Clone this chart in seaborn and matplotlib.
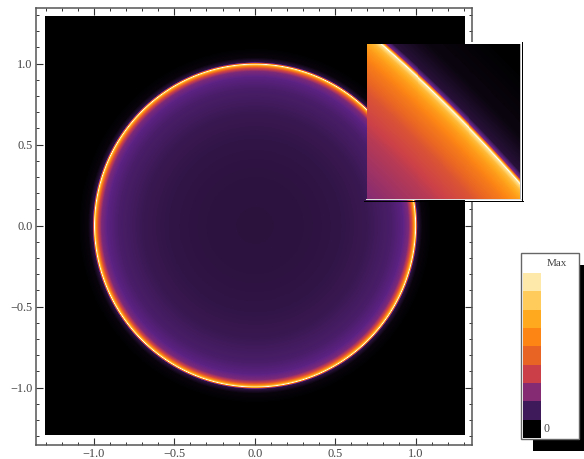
import numpy as np
import matplotlib
matplotlib.use("Agg")
import matplotlib.pyplot as plt
from matplotlib.colors import LinearSegmentedColormap
from matplotlib.patches import Rectangle
from matplotlib.ticker import MultipleLocator
import seaborn as sns

# Colour stops
stop_pos = [0.0, 0.11, 0.18, 0.25, 0.36, 0.47, 0.58, 0.69, 0.80, 0.92, 1.0]
stop_col = ["#000000", "#3f1a5a", "#5e2285", "#842b74", "#cb4048", "#e86424",
            "#fc8514", "#ffaa1e", "#ffcc5c", "#ffe9a8", "#ffffff"]
legend_levels = [0.92, 0.80, 0.69, 0.58, 0.47, 0.36, 0.25, 0.11, 0.0]

# Radial profile of the disc
radius = [0, 0.3, 0.5, 0.7, 0.85, 0.92, 0.955, 0.975, 0.988, 0.996, 1.0, 1.005, 1.012, 1.04, 1.1, 2.0]
radial_level = [0.075, 0.078, 0.085, 0.10, 0.135, 0.175, 0.235, 0.38, 0.58, 0.80, 1.0, 0.45, 0.08, 0.015, 0, 0]

# Profile across the diagonal edge of the inset
edge_dist = [-0.80, -0.50, -0.30, -0.15, -0.08, -0.03, -0.008, 0.0, 0.008, 0.022, 0.05, 0.2, 0.5, 1.0]
edge_level = [0.25, 0.33, 0.42, 0.55, 0.64, 0.74, 0.88, 1.0, 0.72, 0.22, 0.07, 0.02, 0.0, 0.0]

x_ticks = [-1.0, -0.5, 0.0, 0.5, 1.0]
y_ticks = [-1.0, -0.5, 0.0, 0.5, 1.0]

W, H = 584, 459
cmap = LinearSegmentedColormap.from_list("edge", list(zip(stop_pos, stop_col)), N=512)

sns.set_theme(style="white")
plt.rcParams["font.family"] = ["Liberation Serif", "DejaVu Serif"]
fig = plt.figure(figsize=(W / 100, H / 100), dpi=100, facecolor="white")


def px_axes(l, t, r, b, z=1):
    return fig.add_axes([l / W, 1 - b / H, (r - l) / W, (b - t) / H], zorder=z)


# Main frame
ax = px_axes(36, 8, 472, 445, z=1)
ax.set_xlim(-1.36, 1.351)
ax.set_ylim(-1.355, 1.343)
ax.set_facecolor("white")
ax.set_xticks(x_ticks, ["\u22121.0", "\u22120.5", "0.0", "0.5", "1.0"])
ax.set_yticks(y_ticks, ["\u22121.0", "\u22120.5", "0.0", "0.5", "1.0"])
ax.xaxis.set_minor_locator(MultipleLocator(0.1))
ax.yaxis.set_minor_locator(MultipleLocator(0.1))
ax.tick_params(which="major", direction="in", length=5, width=0.8, color="#333333",
               top=True, right=True, bottom=True, left=True,
               labelsize=8.8, labelcolor="#444444", pad=2.5)
ax.tick_params(which="minor", direction="in", length=2.5, width=0.7, color="#333333",
               top=True, right=True, bottom=True, left=True)
for s in ax.spines.values():
    s.set_color("#555555")
    s.set_linewidth(1.1)

# Disc
n = 420
xs = np.linspace(-1.305, 1.304, n)
ys = np.linspace(1.294, -1.293, n)
gx, gy = np.meshgrid(xs, ys)
disc = np.interp(np.hypot(gx, gy), radius, radial_level)
a_main = px_axes(45, 16, 464.5, 435, z=2)
sns.heatmap(disc, ax=a_main, cmap=cmap, vmin=0, vmax=1, cbar=False,
            xticklabels=False, yticklabels=False, rasterized=True)
a_main.set_axis_off()

# Inset: white backing, black drop lines, then field
back = fig.add_axes([0, 0, 1, 1], zorder=3)
back.set_xlim(0, W)
back.set_ylim(H, 0)
back.axis("off")
back.patch.set_alpha(0)
back.add_patch(Rectangle((363.5, 201), 160, 1.4, fc="black", ec="none"))
back.add_patch(Rectangle((522, 42), 1.4, 160, fc="black", ec="none"))
back.add_patch(Rectangle((464.5, 42), 57.5, 159, fc="white", ec="none"))
back.add_patch(Rectangle((520, 44), 1.2, 156, fc="#bbbbbb", ec="none"))
back.add_patch(Rectangle((366, 199), 156, 1.2, fc="#dddddd", ec="none"))

m = 310
u = np.linspace(0, 1, m)
v = np.linspace(1, 0, m)
gu, gv = np.meshgrid(u, v)
dist = (gu + gv - 1.1) / np.sqrt(2) - 0.021 * (1 - ((gu - gv) / 0.9) ** 2)
inset = np.interp(dist, edge_dist, edge_level)
a_in = px_axes(366.5, 44, 520, 199, z=4)
sns.heatmap(inset, ax=a_in, cmap=cmap, vmin=0, vmax=1, cbar=False,
            xticklabels=False, yticklabels=False, rasterized=True)
a_in.set_axis_off()

# Legend box with drop shadow
back.add_patch(Rectangle((532.5, 265), 51.5, 186, fc="black", ec="none"))
back.add_patch(Rectangle((521, 253), 58, 186, fc="white", ec="#666666", lw=1.0))
a_leg = px_axes(522.5, 273, 541, 438, z=5)
sns.heatmap(np.array(legend_levels).reshape(-1, 1), ax=a_leg, cmap=cmap, vmin=0, vmax=1,
            cbar=False, xticklabels=False, yticklabels=False)
a_leg.set_axis_off()
back.text(556.5, 264, "Max", fontsize=8, color="#444444", ha="center", va="center")
back.text(546, 429, "0", fontsize=8.5, color="#444444", ha="center", va="center")

fig.savefig("out.png", dpi=100, facecolor="white")
